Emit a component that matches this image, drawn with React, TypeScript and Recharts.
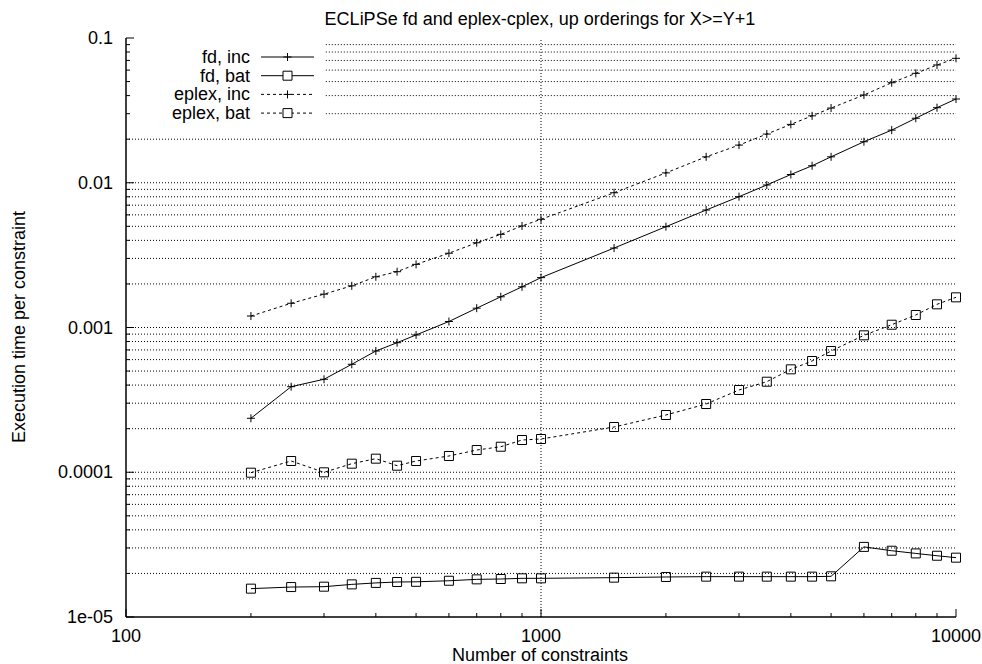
import React from 'react'
import { LineChart, Line, XAxis, YAxis, ReferenceLine } from 'recharts'

const FONT = '"Liberation Sans", Arial, Helvetica, sans-serif'

// number of constraints (x)
const CONSTRAINTS = [
  200, 250, 300, 350, 400, 450, 500, 600, 700, 800, 900, 1000,
  1500, 2000, 2500, 3000, 3500, 4000, 4500, 5000, 6000, 7000, 8000, 9000, 10000,
]

// execution time per constraint
const FD_INC = [
  0.000236, 0.00039, 0.000439, 0.000557, 0.000688, 0.000785, 0.000888, 0.0011, 0.00136, 0.00163, 0.00191, 0.00221,
  0.00354, 0.00497, 0.00648, 0.00801, 0.00965, 0.0114, 0.0131, 0.0151, 0.0192, 0.0231, 0.0279, 0.033, 0.0379,
]
const FD_BAT = [
  1.57e-5, 1.61e-5, 1.62e-5, 1.68e-5, 1.72e-5, 1.745e-5, 1.75e-5, 1.78e-5, 1.82e-5, 1.83e-5, 1.85e-5, 1.85e-5,
  1.87e-5, 1.89e-5, 1.9e-5, 1.9e-5, 1.9e-5, 1.9e-5, 1.9e-5, 1.91e-5, 3.05e-5, 2.87e-5, 2.75e-5, 2.65e-5, 2.57e-5,
]
const EPLEX_INC = [
  0.0012, 0.00147, 0.0017, 0.00194, 0.00224, 0.00243, 0.00273, 0.00326, 0.00385, 0.0044, 0.00503, 0.00559,
  0.00853, 0.0117, 0.0151, 0.0182, 0.0217, 0.0253, 0.029, 0.0328, 0.0404, 0.0491, 0.057, 0.0651, 0.0724,
]
const EPLEX_BAT = [
  9.93e-5, 1.196e-4, 9.99e-5, 1.146e-4, 1.241e-4, 1.11e-4, 1.196e-4, 1.295e-4, 1.424e-4, 1.501e-4, 1.67e-4, 1.697e-4,
  2.054e-4, 2.486e-4, 2.961e-4, 3.7e-4, 4.222e-4, 5.14e-4, 5.868e-4, 6.88e-4, 8.83e-4, 1.045e-3, 1.22e-3, 1.446e-3, 1.616e-3,
]

const X_MAJOR = [100, 1000, 10000]
const X_LABELS = ['100', '1000', '10000']
const Y_MAJOR = [1e-5, 1e-4, 1e-3, 0.01, 0.1]
const Y_LABELS = ['1e-05', '0.0001', '0.001', '0.01', '0.1']
const MINOR_STEPS = [2, 3, 4, 5, 6, 7, 8, 9]

const X_TICKS = [100, ...[100, 1000].flatMap((d) => MINOR_STEPS.map((m) => m * d)), 1000, 10000].sort((a, b) => a - b)
const Y_TICKS = [
  ...Y_MAJOR,
  ...Y_MAJOR.slice(0, -1).flatMap((d) => MINOR_STEPS.map((m) => m * d)),
].sort((a, b) => a - b)

// grid rows hidden behind the key start here
const KEY_EDGE = 303
const KEY_FLOOR = 0.025

const data = CONSTRAINTS.map((n, i) => ({
  n,
  fdInc: FD_INC[i],
  fdBat: FD_BAT[i],
  eplexInc: EPLEX_INC[i],
  eplexBat: EPLEX_BAT[i],
}))

const SERIES = [
  { key: 'fdInc', name: 'fd, inc', dash: undefined, mark: 'plus' },
  { key: 'fdBat', name: 'fd, bat', dash: undefined, mark: 'box' },
  { key: 'eplexInc', name: 'eplex, inc', dash: '3 3', mark: 'plus' },
  { key: 'eplexBat', name: 'eplex, bat', dash: '3 3', mark: 'box' },
]

const isMajor = (v: number) => Math.abs(Math.log10(v) - Math.round(Math.log10(v))) < 1e-9

const markPath = (mark: string, cx: number, cy: number) =>
  mark === 'plus'
    ? `M${cx - 4},${cy}h8M${cx},${cy - 4}v8`
    : `M${cx - 4.5},${cy - 4.5}h9v9h-9Z`

const makeDot = (mark: string) => (p: any) => {
  if (p.cx == null || p.cy == null) return <g key={`d-${p.index}`} />
  return <path key={`d-${p.index}`} d={markPath(mark, p.cx, p.cy)} stroke="#000" strokeWidth={1} fill="none" />
}

const XTick = ({ x, y, payload, side }: any) => {
  const major = isMajor(payload.value)
  const len = major ? 8 : 4
  const dir = side === 'bottom' ? -1 : 1
  const idx = X_MAJOR.findIndex((v) => Math.abs(v - payload.value) < 1e-6)
  return (
    <g>
      <line x1={x} y1={y} x2={x} y2={y + dir * len} stroke="#000" strokeWidth={1} />
      {side === 'bottom' && major && (
        <text x={x} y={y + 25} textAnchor="middle" fontFamily={FONT} fontSize={18} fill="#000">
          {X_LABELS[idx]}
        </text>
      )}
    </g>
  )
}

const YTick = ({ x, y, payload, side }: any) => {
  const major = isMajor(payload.value)
  const len = major ? 8 : 4
  const dir = side === 'left' ? 1 : -1
  const idx = Y_MAJOR.findIndex((v) => Math.abs(Math.log10(v) - Math.log10(payload.value)) < 1e-6)
  return (
    <g>
      <line x1={x} y1={y} x2={x + dir * len} y2={y} stroke="#000" strokeWidth={1} />
      {side === 'left' && major && (
        <text x={x - 13} y={y + 6} textAnchor="end" fontFamily={FONT} fontSize={18} fill="#000">
          {Y_LABELS[idx]}
        </text>
      )}
    </g>
  )
}

function Overlay() {
  return (
    <svg width={982} height={664} style={{ position: 'absolute', left: 0, top: 0, pointerEvents: 'none' }}>
      <text x={540} y={25} textAnchor="middle" fontFamily={FONT} fontSize={18} fill="#000">
        ECLiPSe fd and eplex-cplex, up orderings for X&gt;=Y+1
      </text>
      <text x={540} y={661} textAnchor="middle" fontFamily={FONT} fontSize={18} fill="#000">
        Number of constraints
      </text>
      <text
        x={0}
        y={0}
        transform="translate(25,327) rotate(-90)"
        textAnchor="middle"
        fontFamily={FONT}
        fontSize={18}
        fill="#000"
      >
        Execution time per constraint
      </text>
      {SERIES.map((s, i) => {
        const cy = 57 + i * 18.7
        return (
          <g key={s.key}>
            <text x={250} y={cy + 6} textAnchor="end" fontFamily={FONT} fontSize={18} fill="#000">
              {s.name}
            </text>
            <line x1={261} y1={cy} x2={314} y2={cy} stroke="#000" strokeWidth={1} strokeDasharray={s.dash} />
            <path d={markPath(s.mark, 287.5, cy)} stroke="#000" strokeWidth={1} fill={s.mark === 'box' ? '#fff' : 'none'} />
          </g>
        )
      })}
    </svg>
  )
}

export default function App() {
  return (
    <div style={{ position: 'absolute', left: 0, top: 0, width: 982, height: 664, background: '#fff' }}>
      <LineChart width={982} height={664} data={data} margin={{ top: 38, right: 26, bottom: 0, left: 0 }}>
        <XAxis
          dataKey="n"
          type="number"
          scale="log"
          domain={[100, 10000]}
          ticks={X_TICKS}
          interval={0}
          height={47}
          tickSize={0}
          tickMargin={0}
          tickLine={false}
          axisLine={{ stroke: '#000', strokeWidth: 1.5 }}
          tick={(p: any) => <XTick {...p} side="bottom" />}
        />
        <XAxis
          xAxisId="top"
          orientation="top"
          dataKey="n"
          type="number"
          scale="log"
          domain={[100, 10000]}
          ticks={X_TICKS}
          interval={0}
          height={0}
          tickSize={0}
          tickMargin={0}
          tickLine={false}
          axisLine={{ stroke: '#000', strokeWidth: 1.5 }}
          tick={(p: any) => <XTick {...p} side="top" />}
        />
        <YAxis
          type="number"
          scale="log"
          domain={[1e-5, 0.1]}
          ticks={Y_TICKS}
          interval={0}
          width={126}
          tickSize={0}
          tickMargin={0}
          tickLine={false}
          axisLine={{ stroke: '#000', strokeWidth: 1.5 }}
          tick={(p: any) => <YTick {...p} side="left" />}
        />
        <YAxis
          yAxisId="right"
          orientation="right"
          type="number"
          scale="log"
          domain={[1e-5, 0.1]}
          ticks={Y_TICKS}
          interval={0}
          width={0}
          tickSize={0}
          tickMargin={0}
          tickLine={false}
          axisLine={{ stroke: '#000', strokeWidth: 1.5 }}
          tick={(p: any) => <YTick {...p} side="right" />}
        />
        {Y_TICKS.filter((v) => v > 1.5e-5 && v < 0.095).map((v) =>
          v > KEY_FLOOR ? (
            <ReferenceLine
              key={`gy-${v}`}
              segment={[{ x: KEY_EDGE, y: v }, { x: 10000, y: v }]}
              stroke="#000"
              strokeDasharray="1 2"
            />
          ) : (
            <ReferenceLine key={`gy-${v}`} y={v} stroke="#000" strokeDasharray="1 2" />
          ),
        )}
        <ReferenceLine x={1000} stroke="#000" strokeDasharray="1 2" />
        {SERIES.map((s) => (
          <Line
            key={s.key}
            dataKey={s.key}
            name={s.name}
            stroke="#000"
            strokeWidth={1}
            strokeDasharray={s.dash}
            dot={makeDot(s.mark)}
            activeDot={false}
            isAnimationActive={false}
          />
        ))}
      </LineChart>
      <Overlay />
    </div>
  )
}
